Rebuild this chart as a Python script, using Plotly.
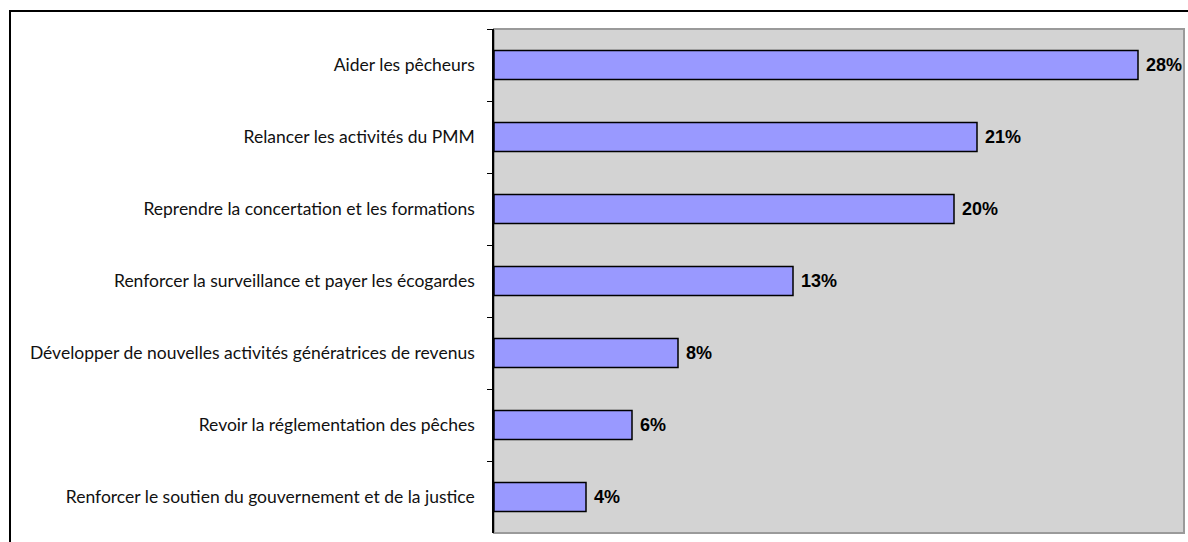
import plotly.graph_objects as go

# Survey responses: priority actions, share of answers
actions = [
    "Aider les pêcheurs",
    "Relancer les activités du PMM",
    "Reprendre la concertation et les formations",
    "Renforcer la surveillance et payer les écogardes",
    "Développer de nouvelles activités génératrices de revenus",
    "Revoir la réglementation des pêches",
    "Renforcer le soutien du gouvernement et de la justice",
]
shares = [0.28, 0.21, 0.20, 0.13, 0.08, 0.06, 0.04]
share_labels = ["28%", "21%", "20%", "13%", "8%", "6%", "4%"]

W, H = 1188, 542
ML, MR, MT, MB = 494, 4, 29, 9
pw, ph = W - ML - MR, H - MT - MB

fig = go.Figure(
    go.Bar(
        x=shares,
        y=actions,
        orientation="h",
        width=0.4,
        marker=dict(color="#9999FF", line=dict(color="black", width=1.5)),
        text=[" <b>%s</b>" % s for s in share_labels],
        textposition="outside",
        textfont=dict(family="Liberation Sans, Arial", size=18, color="black"),
        cliponaxis=False,
    )
)

fig.update_layout(
    width=W,
    height=H,
    margin=dict(l=ML, r=MR, t=MT, b=MB),
    paper_bgcolor="white",
    plot_bgcolor="#D3D3D3",
    showlegend=False,
    font=dict(family="Lato, Open Sans, sans-serif", size=17, color="black"),
    xaxis=dict(
        range=[0, 0.30],
        visible=False,
        showgrid=False,
        zeroline=False,
    ),
    yaxis=dict(
        autorange="reversed",
        showline=True,
        linecolor="black",
        linewidth=1.5,
        ticks="outside",
        tickson="boundaries",
        ticklen=5,
        tickcolor="black",
        tickwidth=1,
        showgrid=False,
        ticklabelstandoff=14,
        tickfont=dict(family="Lato, Open Sans, sans-serif", size=17.5, color="#111111"),
    ),
    shapes=[
        # plot area frame (grey), the black axis line sits on its left edge
        dict(type="rect", xref="paper", yref="paper", x0=0, x1=1, y0=0, y1=1,
             line=dict(color="#9A9A9A", width=2), layer="below"),
        # outer chart border
        dict(type="rect", xref="paper", yref="paper",
             x0=(10 - ML) / pw, x1=(W + 4 - ML) / pw,
             y0=-(H + 4 - MT - ph) / ph, y1=1 + (MT - 11) / ph,
             line=dict(color="black", width=2)),
    ],
)

fig.write_html("out.html")
